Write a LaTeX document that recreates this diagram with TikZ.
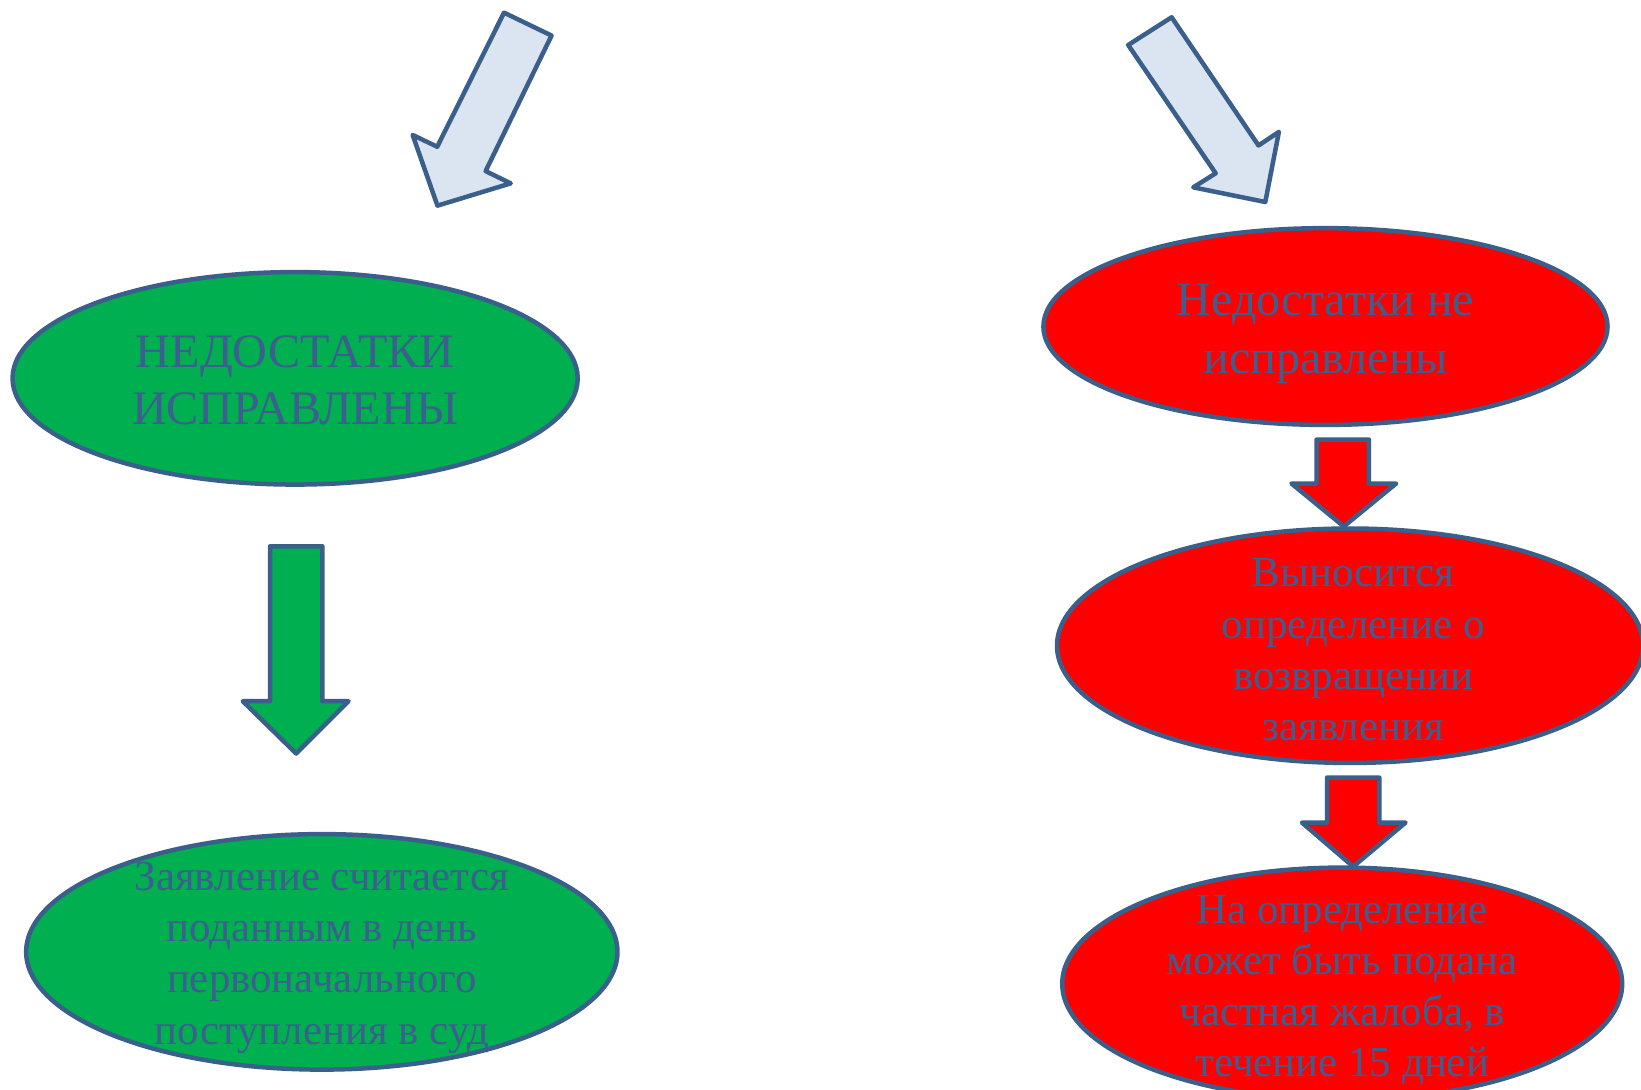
\documentclass[tikz,border=0pt]{standalone}
\usepackage{fontspec}
\setmainfont{Liberation Serif}
\usetikzlibrary{shapes.geometric}
\definecolor{edge}{HTML}{3A5F8B}
\definecolor{txt}{HTML}{3D5F8F}
\definecolor{grn}{HTML}{00B050}
\definecolor{rd}{HTML}{FF0000}
\definecolor{pale}{HTML}{DBE5F1}
\tikzset{
  oval/.style={ellipse, draw=edge, line width=4.3pt, inner sep=0pt},
  gooval/.style={oval, fill=grn},
  rdoval/.style={oval, fill=rd},
  bigtxt/.style={text=txt, align=center, font=\fontsize{46}{55}\selectfont},
  smtxt/.style={text=txt, align=center, font=\fontsize{41}{49}\selectfont},
  blockarrow/.style={draw=edge, line width=4.3pt, line join=round},
}
\begin{document}
\begin{tikzpicture}[x=1pt,y=-1pt]
\useasboundingbox (0,0) rectangle (1568,1040.6);
\clip (0,0) rectangle (1568,1040.6);
\fill[white] (0,0) rectangle (1568,1040.6);

% top pale arrows
\draw[blockarrow, fill=pale] (481.6,12.1) -- (527,34) -- (464,163.5) -- (488,175.2) -- (418,196.5) -- (394.3,129) -- (417.8,140.2) -- cycle;
\draw[blockarrow, fill=pale] (1078,43) -- (1119.5,16.5) -- (1202.5,139) -- (1222,126) -- (1209,193) -- (1140.2,179) -- (1161.6,165.6) -- cycle;

% ellipses
\node[gooval, minimum width=540pt, minimum height=203pt] (g1) at (282,361.5) {};
\node[bigtxt] (g1t) at ([yshift=-2pt]g1.center) {НЕДОСТАТКИ\\ИСПРАВЛЕНЫ};

\node[gooval, minimum width=565pt, minimum height=225pt] (g2) at (307.5,909.5) {};
\node[smtxt] (g2t) at ([yshift=-5.5pt]g2.center) {Заявление считается\\поданным в день\\первоначального\\поступления в суд};

\node[rdoval, minimum width=539pt, minimum height=188pt] (r1) at (1266.5,312) {};
\node[bigtxt] (r1t) at ([yshift=-7pt]r1.center) {Недостатки не\\исправлены};

\node[rdoval, minimum width=560pt, minimum height=224pt] (r2) at (1290,617) {};
\node[smtxt] (r2t) at ([xshift=3pt,yshift=-4pt]r2.center) {Выносится\\определение о\\возвращении\\заявления};

\node[rdoval, minimum width=535pt, minimum height=222pt] (r3) at (1282.5,940) {};
\node[smtxt] (r3t) at ([yshift=-6pt]r3.center) {На определение\\может быть подана\\частная жалоба, в\\течение 15 дней};

% block arrows
\draw[blockarrow, fill=grn] (258,522) -- (308,522) -- (308,670) -- (333,670) -- (283,720) -- (232,670) -- (258,670) -- cycle;
\draw[blockarrow, fill=rd] (1258,420) -- (1308,420) -- (1308,462) -- (1334,462) -- (1284,503) -- (1234,462) -- (1258,462) -- cycle;
\draw[blockarrow, fill=rd] (1268,743) -- (1318,743) -- (1318,786) -- (1343,786) -- (1293,828) -- (1244,786) -- (1268,786) -- cycle;
\end{tikzpicture}
\end{document}
